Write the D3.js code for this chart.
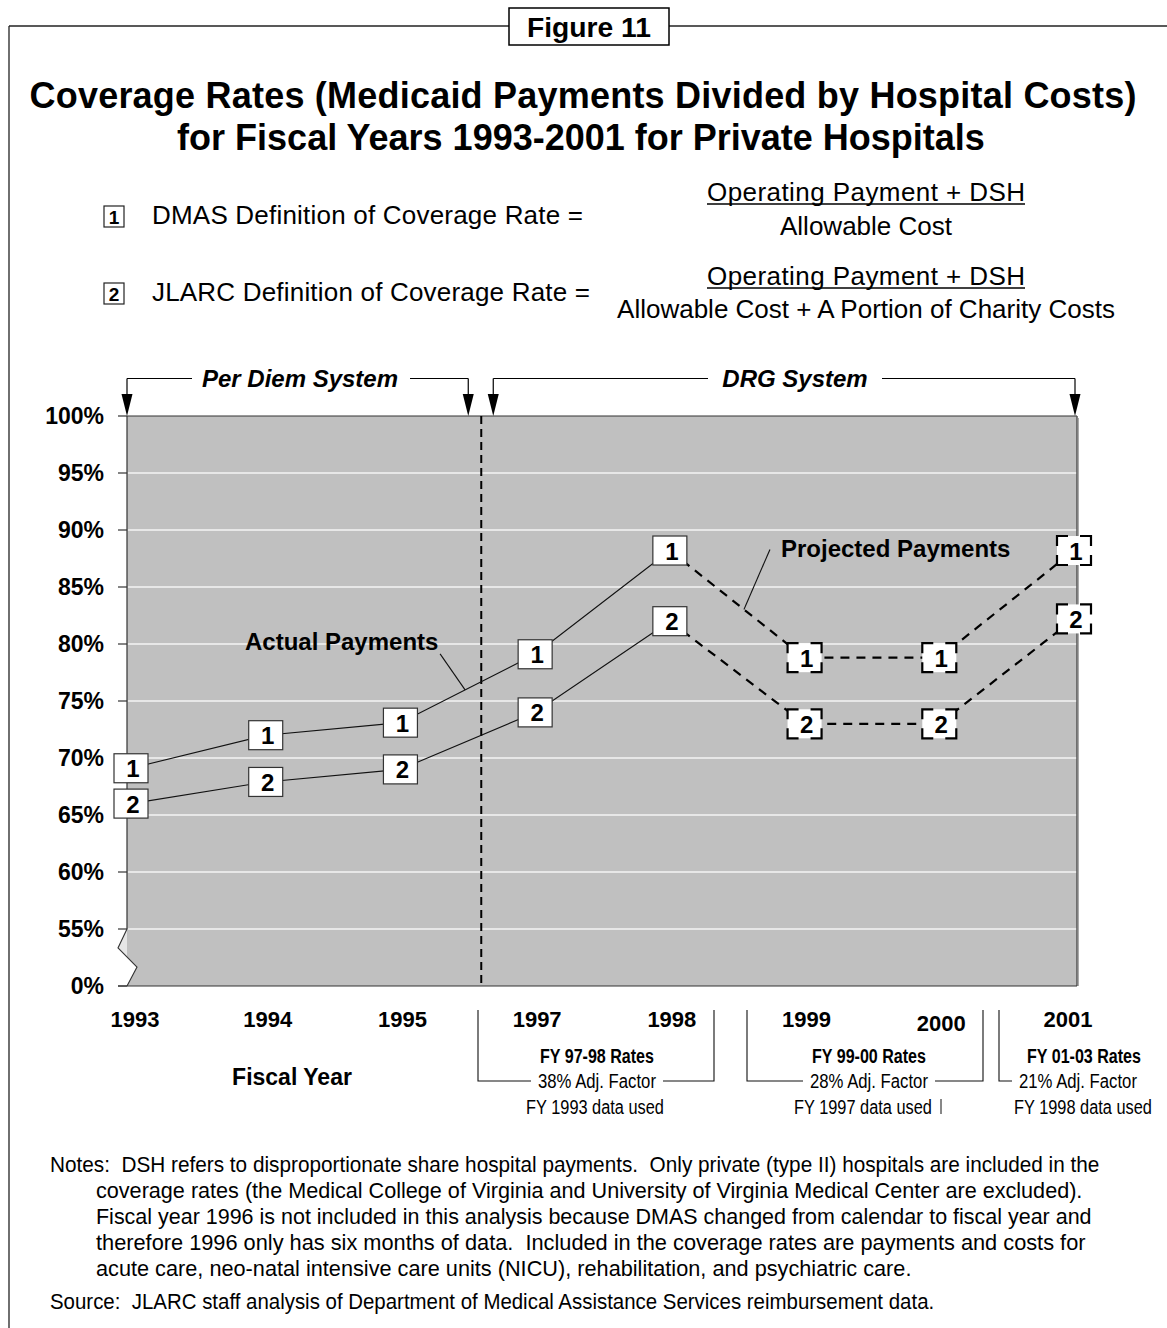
<!DOCTYPE html>
<html>
<head>
<meta charset="utf-8">
<script src="https://cdn.jsdelivr.net/npm/d3@7"></script>
<style>
  body { margin: 0; background: #fff; }
  svg { display: block; }
  text { font-family: Arial, "Liberation Sans", sans-serif; fill: #000; white-space: pre; }
  .narrow { font-family: "Liberation Sans Narrow", "Arial Narrow", Arial, "Liberation Sans", sans-serif; }
</style>
</head>
<body>
<svg id="chart" width="1167" height="1328"></svg>
<script>
// ---- data ----
const years = ["1993", "1994", "1995", "1997", "1998", "1999", "2000", "2001"];
const dmasRate  = [69.1, 72.0, 73.1, 79.1, 88.2, 78.8, 78.8, 88.2];   // definition 1
const jlarcRate = [66.0, 67.9, 69.0, 74.0, 82.0, 73.0, 73.0, 82.2];   // definition 2
const lastActualYear = "1998";
const tickValues = [50, 55, 60, 65, 70, 75, 80, 85, 90, 95, 100];
const tickLabels = ["0%", "55%", "60%", "65%", "70%", "75%", "80%", "85%", "90%", "95%", "100%"];
const ratePeriods = ["FY 97-98 Rates", "FY 99-00 Rates", "FY 01-03 Rates"];
const adjFactors = ["38% Adj. Factor", "28% Adj. Factor", "21% Adj. Factor"];
const dataUsed = ["FY 1993 data used", "FY 1997 data used", "FY 1998 data used"];
const noteLines = [
  "Notes:  DSH refers to disproportionate share hospital payments.  Only private (type II) hospitals are included in the",
  "coverage rates (the Medical College of Virginia and University of Virginia Medical Center are excluded).",
  "Fiscal year 1996 is not included in this analysis because DMAS changed from calendar to fiscal year and",
  "therefore 1996 only has six months of data.  Included in the coverage rates are payments and costs for",
  "acute care, neo-natal intensive care units (NICU), rehabilitation, and psychiatric care."
];
const sourceLine = "Source:  JLARC staff analysis of Department of Medical Assistance Services reimbursement data.";

// ---- layout ----
const svg = d3.select("#chart");
const plot = { left: 127, right: 1077, top: 416, bottom: 986 };

const x = d3.scalePoint().domain(years).range([131, 1074]);
const y = d3.scaleLinear().domain([50, 100]).range([plot.bottom, plot.top]);

// stretch letter spacing to a set width
function spread(sel, w) {
  sel.attr("textLength", w).attr("lengthAdjust", "spacing");
  return sel;
}
// horizontally condense a text (narrow face) to a set width around its anchor
function condense(sel, w) {
  const n = sel.node();
  const len = n.getComputedTextLength();
  const k = w / len;
  const x0 = +sel.attr("x");
  sel.attr("transform", `translate(${x0},0) scale(${k},1) translate(${-x0},0)`);
  return sel;
}

// ---- frame and figure tag ----
svg.append("line").attr("x1", 9).attr("x2", 1167).attr("y1", 26).attr("y2", 26)
  .attr("stroke", "#222").attr("stroke-width", 1.3);
svg.append("line").attr("x1", 9).attr("x2", 9).attr("y1", 26).attr("y2", 1328)
  .attr("stroke", "#222").attr("stroke-width", 1.3);
svg.append("rect").attr("x", 509).attr("y", 8).attr("width", 160).attr("height", 37)
  .attr("fill", "#fff").attr("stroke", "#000").attr("stroke-width", 1.5);
condense(svg.append("text").attr("class", "narrow").attr("x", 589).attr("y", 37)
  .attr("text-anchor", "middle").attr("font-size", 28).attr("font-weight", "bold")
  .text("Figure 11"), 124);

// ---- title ----
spread(svg.append("text").attr("x", 583).attr("y", 108).attr("text-anchor", "middle")
  .attr("font-size", 36).attr("font-weight", "bold")
  .text("Coverage Rates (Medicaid Payments Divided by Hospital Costs)"), 1107);
svg.append("text").attr("x", 581).attr("y", 150).attr("text-anchor", "middle")
  .attr("font-size", 36).attr("font-weight", "bold")
  .text("for Fiscal Years 1993-2001 for Private Hospitals");

// ---- definitions ----
const defs = [
  { key: "1", label: "DMAS Definition of Coverage Rate =", num: "Operating Payment + DSH", den: "Allowable Cost", yRow: 224, yNum: 201, yDen: 235, labelW: 431 },
  { key: "2", label: "JLARC Definition of Coverage Rate =", num: "Operating Payment + DSH", den: "Allowable Cost + A Portion of Charity Costs", yRow: 301, yNum: 285, yDen: 318, labelW: 438 }
];
defs.forEach(d => {
  const g = svg.append("g");
  g.append("rect").attr("x", 104).attr("y", d.yRow - 18).attr("width", 20).attr("height", 21)
    .attr("fill", "#fff").attr("stroke", "#222").attr("stroke-width", 1.2);
  g.append("text").attr("x", 114).attr("y", d.yRow).attr("text-anchor", "middle")
    .attr("font-size", 19).attr("font-weight", "bold").text(d.key);
  spread(g.append("text").attr("x", 152).attr("y", d.yRow).attr("font-size", 26).text(d.label), d.labelW);
  spread(g.append("text").attr("x", 866).attr("y", d.yNum).attr("text-anchor", "middle")
    .attr("font-size", 26).text(d.num), 318);
  g.append("line").attr("x1", 707).attr("x2", 1025).attr("y1", d.yNum + 3).attr("y2", d.yNum + 3)
    .attr("stroke", "#000").attr("stroke-width", 1.3);
  g.append("text").attr("x", 866).attr("y", d.yDen).attr("text-anchor", "middle")
    .attr("font-size", 26).text(d.den);
});

// ---- plot area ----
svg.append("rect").attr("x", plot.left).attr("y", plot.top)
  .attr("width", plot.right - plot.left).attr("height", plot.bottom - plot.top)
  .attr("fill", "#c0c0c0");

// axis break at the bottom-left corner
const zig = [[plot.left, y(55)], [118, y(55) + 19], [137, y(55) + 38], [plot.left, plot.bottom]];
svg.append("polygon").attr("points", [zig[0], zig[1], [plot.left, y(55) + 28]].join(" "))
  .attr("fill", "#e6e6e6");
svg.append("polygon").attr("points", [[plot.left, y(55) + 28], zig[2], zig[3]].join(" "))
  .attr("fill", "#fff");

// gridlines
svg.append("g").selectAll("line")
  .data(tickValues.filter(v => v > 50 && v < 100))
  .join("line")
  .attr("x1", plot.left + 1).attr("x2", plot.right)
  .attr("y1", d => y(d)).attr("y2", d => y(d))
  .attr("stroke", "#f4f4f4").attr("stroke-width", 1.5);

// plot borders
svg.append("line").attr("x1", plot.left).attr("x2", plot.right).attr("y1", plot.top).attr("y2", plot.top)
  .attr("stroke", "#333").attr("stroke-width", 1.2);
svg.append("line").attr("x1", plot.left).attr("x2", plot.left).attr("y1", plot.top).attr("y2", y(55))
  .attr("stroke", "#333").attr("stroke-width", 1.2);
svg.append("line").attr("x1", plot.right).attr("x2", plot.right).attr("y1", plot.top).attr("y2", plot.bottom)
  .attr("stroke", "#555").attr("stroke-width", 1.5);
svg.append("line").attr("x1", plot.right + 1.5).attr("x2", plot.right + 1.5).attr("y1", plot.top + 2).attr("y2", plot.bottom)
  .attr("stroke", "#aaa").attr("stroke-width", 1);
svg.append("line").attr("x1", 118).attr("x2", plot.right).attr("y1", plot.bottom).attr("y2", plot.bottom)
  .attr("stroke", "#333").attr("stroke-width", 1.2);
svg.append("polyline").attr("points", zig.join(" ")).attr("fill", "none")
  .attr("stroke", "#333").attr("stroke-width", 1.1);

// y axis ticks + labels
const yAxis = svg.append("g");
yAxis.selectAll("line").data(tickValues).join("line")
  .attr("x1", 118).attr("x2", plot.left).attr("y1", d => y(d)).attr("y2", d => y(d))
  .attr("stroke", "#333").attr("stroke-width", 1.2);
yAxis.selectAll("text").data(tickValues).join("text")
  .attr("x", 104).attr("y", d => y(d) + 8).attr("text-anchor", "end")
  .attr("font-size", 23).attr("font-weight", "bold")
  .text((d, i) => tickLabels[i]);

// x axis labels
svg.append("g").selectAll("text").data(years).join("text")
  .attr("x", d => x(d) + (d === "1993" ? 4 : d === "2001" ? -6 : 2))
  .attr("y", d => d === "2000" ? 1031 : 1027)
  .attr("text-anchor", "middle").attr("font-size", 22).attr("font-weight", "bold")
  .text(d => d);
svg.append("text").attr("x", 292).attr("y", 1085).attr("text-anchor", "middle")
  .attr("font-size", 23).attr("font-weight", "bold").text("Fiscal Year");

// payment-system divider between 1995 and 1997
const divX = x("1995") + 0.6 * (x("1997") - x("1995"));
svg.append("line").attr("x1", divX).attr("x2", divX).attr("y1", plot.top).attr("y2", plot.bottom)
  .attr("stroke", "#000").attr("stroke-width", 2).attr("stroke-dasharray", "8,5");

// system arrows above the plot
const arrowY = 378.5;
function downArrow(ax) {
  svg.append("line").attr("x1", ax).attr("x2", ax).attr("y1", arrowY).attr("y2", plot.top - 20)
    .attr("stroke", "#000").attr("stroke-width", 1.2);
  svg.append("polygon")
    .attr("points", [[ax - 5.5, plot.top - 22], [ax + 5.5, plot.top - 22], [ax, plot.top]].join(" "))
    .attr("fill", "#000");
}
function hLine(a, b) {
  svg.append("line").attr("x1", a).attr("x2", b).attr("y1", arrowY).attr("y2", arrowY)
    .attr("stroke", "#000").attr("stroke-width", 1.2);
}
hLine(plot.left, 192); hLine(410, divX - 13);
downArrow(plot.left); downArrow(divX - 13);
svg.append("text").attr("x", 300).attr("y", 387).attr("text-anchor", "middle")
  .attr("font-size", 24).attr("font-weight", "bold").attr("font-style", "italic").text("Per Diem System");
hLine(divX + 12, 708); hLine(882, plot.right - 2);
downArrow(divX + 12); downArrow(plot.right - 2);
svg.append("text").attr("x", 795).attr("y", 387).attr("text-anchor", "middle")
  .attr("font-size", 24).attr("font-weight", "bold").attr("font-style", "italic").text("DRG System");

// ---- series ----
const split = years.indexOf(lastActualYear);
const series = [
  { key: "1", values: dmasRate },
  { key: "2", values: jlarcRate }
].map(s => ({ key: s.key, pts: years.map((yr, i) => ({ yr, v: s.values[i], i })) }));

const line = d3.line().x(d => x(d.yr)).y(d => y(d.v));
const gLines = svg.append("g");
series.forEach(s => {
  gLines.append("path").datum(s.pts.slice(0, split + 1)).attr("d", line)
    .attr("fill", "none").attr("stroke", "#111").attr("stroke-width", 1.1);
  gLines.append("path").datum(s.pts.slice(split)).attr("d", line)
    .attr("fill", "none").attr("stroke", "#000").attr("stroke-width", 2.2)
    .attr("stroke-dasharray", "9,7");
});

// callouts
const s1 = series[0].pts;
function along(a, b, t) {
  return [x(a.yr) + t * (x(b.yr) - x(a.yr)), y(a.v) + t * (y(b.v) - y(a.v))];
}
const actualTip = along(s1[2], s1[3], 0.48);
svg.append("line").attr("x1", actualTip[0] - 25).attr("y1", actualTip[1] - 36)
  .attr("x2", actualTip[0]).attr("y2", actualTip[1]).attr("stroke", "#111").attr("stroke-width", 1.1);
svg.append("text").attr("x", 245).attr("y", 650).attr("font-size", 24).attr("font-weight", "bold")
  .text("Actual Payments");
const projTip = along(s1[4], s1[5], 0.55);
svg.append("line").attr("x1", projTip[0] + 26).attr("y1", projTip[1] - 60)
  .attr("x2", projTip[0]).attr("y2", projTip[1]).attr("stroke", "#111").attr("stroke-width", 1.1);
svg.append("text").attr("x", 781).attr("y", 557).attr("font-size", 24).attr("font-weight", "bold")
  .text("Projected Payments");

// point markers
const bw = 34, bh = 29;
series.forEach(s => {
  const g = svg.append("g").selectAll("g").data(s.pts).join("g")
    .attr("transform", d => `translate(${x(d.yr)},${y(d.v)})`);
  g.append("rect").attr("x", -bw / 2).attr("y", -bh / 2).attr("width", bw).attr("height", bh)
    .attr("fill", "#fff")
    .attr("stroke", d => d.i > split ? "none" : "#333").attr("stroke-width", 1.2);
  g.filter(d => d.i > split).append("path")
    .attr("d", () => {
      const l = -bw / 2, r = bw / 2, t = -bh / 2, b = bh / 2, hx = 11, vy = 10;
      return `M${l},${t + vy}V${t}H${l + hx}M${r - hx},${t}H${r}V${t + vy}` +
             `M${r},${b - vy}V${b}H${r - hx}M${l + hx},${b}H${l}V${b - vy}`;
    })
    .attr("fill", "none").attr("stroke", "#000").attr("stroke-width", 2.2);
  g.append("text").attr("x", 2).attr("y", 9).attr("text-anchor", "middle")
    .attr("font-size", 24).attr("font-weight", "bold").text(s.key);
});

// ---- rate period brackets ----
const periods = [
  { left: 478, right: 714, cx: 597, fx: 597, dataCx: 595 },
  { left: 747, right: 983, cx: 869, fx: 869, dataCx: 863 },
  { left: 999, right: null, cx: 1084, fx: 1078, dataCx: 1083 }
];
const periodW = [114, 118, 138];
const bracketTop = 1010, bracketY = 1081;
periods.forEach((p, i) => {
  const g = svg.append("g");
  condense(g.append("text").attr("class", "narrow").attr("x", p.cx).attr("y", 1063)
    .attr("text-anchor", "middle").attr("font-size", 21).attr("font-weight", "bold")
    .text(ratePeriods[i]), periodW[0]);
  condense(g.append("text").attr("class", "narrow").attr("x", p.fx).attr("y", 1088)
    .attr("text-anchor", "middle").attr("font-size", 21).text(adjFactors[i]), periodW[1]);
  condense(g.append("text").attr("class", "narrow").attr("x", p.dataCx).attr("y", 1114)
    .attr("text-anchor", "middle").attr("font-size", 21).text(dataUsed[i]), periodW[2]);
  const path = [`M${p.left},${bracketTop}V${bracketY}H${p.fx - periodW[1] / 2 - 7}`];
  if (p.right !== null) path.push(`M${p.fx + periodW[1] / 2 + 7},${bracketY}H${p.right}V${bracketTop}`);
  g.append("path").attr("d", path.join("")).attr("fill", "none")
    .attr("stroke", "#111").attr("stroke-width", 1.1);
});
svg.append("line").attr("x1", 941).attr("x2", 941).attr("y1", 1099).attr("y2", 1114)
  .attr("stroke", "#111").attr("stroke-width", 1);

// ---- notes ----
const noteWidths = [1050, 987, 996, 990, 816];
noteLines.forEach((t, i) => {
  condense(svg.append("text").attr("class", "narrow").attr("x", i === 0 ? 50 : 96)
    .attr("y", 1172 + i * 26).attr("font-size", 22).text(t), noteWidths[i]);
});
condense(svg.append("text").attr("class", "narrow").attr("x", 50).attr("y", 1309)
  .attr("font-size", 22).text(sourceLine), 885);
</script>
</body>
</html>
